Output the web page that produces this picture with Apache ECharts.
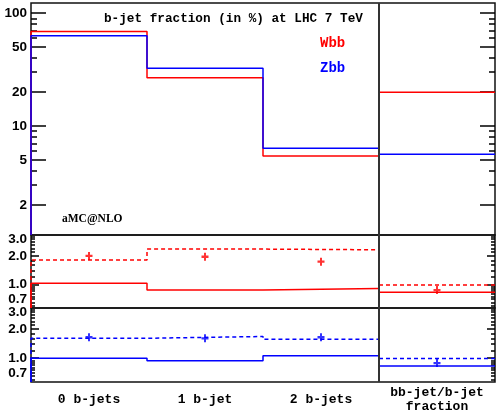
<!DOCTYPE html>
<html><head><meta charset="utf-8">
<script src="https://cdn.jsdelivr.net/npm/echarts@6/dist/echarts.min.js"></script>
<style>html,body{margin:0;padding:0;background:#fff}#c{width:498px;height:416px}</style>
</head><body><div id="c"></div>
<script>
// ---- data ----
const categories = ['0 b-jets', '1 b-jet', '2 b-jets', 'bb-jet/b-jet\nfraction'];
const wbbFraction = [68.7, 26.8, 5.42, 19.9];
const zbbFraction = [62.9, 32.5, 6.34, 5.61];
const wbbRatioSolid = [1.03, 0.875, 0.91, 0.83];
const wbbRatioDashed = [1.81, 2.36, 2.32, 0.99];
const wbbRatioPoints = [2.0, 1.96, 1.74, 0.875];
const zbbRatioSolid = [1.0, 0.94, 1.06, 0.83];
const zbbRatioDashed = [1.61, 1.68, 1.57, 0.99];
const zbbRatioPoints = [1.65, 1.61, 1.65, 0.89];
// ---- tick labels ----
const mainLabelTicks = [2, 5, 10, 20, 50, 100];
const mainMinorTicks = [3, 4, 6, 7, 8, 9, 30, 40, 60, 70, 80, 90];
const ratioLabelTicks = [0.7, 1.0, 2.0, 3.0];
const ratioMajorTicks = [1.0, 2.0];
const ratioMinorTicks = [0.6, 0.65, 0.7, 0.75, 0.8, 0.85, 0.9, 0.95, 1.2, 1.4, 1.6, 1.8, 2.2, 2.4, 2.6, 2.8, 3.0, 3.2];

const L = Math.log10;
const MAIN_RANGE = [1.08, 123];
const RATIO_RANGE = [0.566, 3.32];
const RED = '#ff0000', BLUE = '#0000ff';
const MONO = '"Liberation Mono", "DejaVu Sans Mono", monospace';

function stepData(vals, from, to, floor) {
  const pts = [];
  if (floor != null) pts.push([from, L(floor)]);
  for (let i = from; i < to; i++) { pts.push([i, L(vals[i])]); pts.push([i + 1, L(vals[i])]); }
  return pts;
}
function pointData(vals) { return vals.map((v, i) => [i + 0.5, L(v)]); }

const grids = [
  { left: 31, right: 3, top: 3, height: 232 },
  { left: 31, right: 3, top: 235, height: 73 },
  { left: 31, right: 3, top: 308, height: 74 }
].map(g => Object.assign(g, { show: true, borderColor: '#111', borderWidth: 1.5, backgroundColor: 'transparent', containLabel: false, outerBoundsMode: 'none' }));

const labelStyle = { fontFamily: '"Liberation Sans", Arial, sans-serif', fontWeight: 'bold', fontSize: 13.5, color: '#000', margin: 4 };

function yAxes(gi, range, labelTicks, majorTicks, minorTicks, majLen, minLen, fmt) {
  const base = { gridIndex: gi, type: 'value', min: L(range[0]), max: L(range[1]), splitLine: { show: false }, axisLine: { show: false } };
  const tick = (vals, len) => ({ show: true, inside: true, length: len, customValues: vals.map(L), lineStyle: { color: '#000', width: 1.5 } });
  return [
    Object.assign({}, base, { position: 'left', axisTick: tick(majorTicks, majLen), axisLabel: Object.assign({ customValues: labelTicks.map(L), formatter: fmt }, labelStyle) }),
    Object.assign({}, base, { position: 'left', axisTick: tick(minorTicks, minLen), axisLabel: { show: false } }),
    Object.assign({}, base, { position: 'right', axisTick: tick(majorTicks, majLen), axisLabel: { show: false } }),
    Object.assign({}, base, { position: 'right', axisTick: tick(minorTicks, minLen), axisLabel: { show: false } })
  ];
}

const yAxis = [].concat(
  yAxes(0, MAIN_RANGE, mainLabelTicks, mainLabelTicks, mainMinorTicks, 15, 6, v => String(Math.round(Math.pow(10, v)))),
  yAxes(1, RATIO_RANGE, ratioLabelTicks, ratioMajorTicks, ratioMinorTicks, 8, 4, v => Math.pow(10, v).toFixed(1)),
  yAxes(2, RATIO_RANGE, ratioLabelTicks, ratioMajorTicks, ratioMinorTicks, 8, 4, v => Math.pow(10, v).toFixed(1))
);

const xAxis = [0, 1, 2].map(gi => ({
  gridIndex: gi, type: 'value', min: 0, max: 4,
  axisLine: { show: false }, axisTick: { show: false }, splitLine: { show: false },
  axisLabel: gi === 2 ? {
    customValues: [0.5, 1.5, 2.5, 3.5],
    formatter: v => categories[Math.floor(v)],
    fontFamily: MONO, fontWeight: 'bold', fontSize: 13, color: '#000',
    margin: 18, verticalAlign: 'middle', lineHeight: 14
  } : { show: false }
}));

function line(gi, data, color, dashed) {
  return {
    type: 'line', xAxisIndex: gi, yAxisIndex: gi * 4, data: data, symbol: 'none', silent: true,
    animation: false, clip: true,
    lineStyle: { color: color, width: 1.5, type: dashed ? [4, 3] : 'solid' }
  };
}
function pts(gi, data, color) {
  return {
    type: 'scatter', xAxisIndex: gi, yAxisIndex: gi * 4, data: data, silent: true, animation: false,
    symbol: 'path://M2.5,0H4.5V2.5H7V4.5H4.5V7H2.5V4.5H0V2.5H2.5Z', symbolSize: [7, 8],
    itemStyle: { color: color }
  };
}
function separator(gi) {
  return {
    type: 'line', xAxisIndex: gi, yAxisIndex: gi * 4, data: [], silent: true, animation: false,
    markLine: { silent: true, symbol: 'none', label: { show: false }, animation: false,
      lineStyle: { color: '#333', width: 2, type: 'solid' }, data: [{ xAxis: 3 }] }
  };
}

const series = [
  // main panel
  line(0, stepData(wbbFraction, 0, 3, MAIN_RANGE[0]), RED),
  line(0, stepData(wbbFraction, 3, 4), RED),
  line(0, stepData(zbbFraction, 0, 3, MAIN_RANGE[0]), BLUE),
  line(0, stepData(zbbFraction, 3, 4), BLUE),
  separator(0),
  // Wbb ratio panel
  line(1, stepData(wbbRatioDashed, 0, 3, RATIO_RANGE[0]), RED, true),
  line(1, stepData(wbbRatioDashed, 3, 4), RED, true),
  line(1, stepData(wbbRatioSolid, 0, 3, RATIO_RANGE[0]), RED),
  line(1, stepData(wbbRatioSolid, 3, 4), RED),
  pts(1, pointData(wbbRatioPoints), RED),
  separator(1),
  // Zbb ratio panel
  line(2, stepData(zbbRatioDashed, 0, 3, RATIO_RANGE[0]), BLUE, true),
  line(2, stepData(zbbRatioDashed, 3, 4), BLUE, true),
  line(2, stepData(zbbRatioSolid, 0, 3, RATIO_RANGE[0]), BLUE),
  line(2, stepData(zbbRatioSolid, 3, 4), BLUE),
  pts(2, pointData(zbbRatioPoints), BLUE),
  separator(2)
];

const graphic = [
  { type: 'text', silent: true, style: { x: 104, y: 19, text: 'b-jet fraction (in %) at LHC 7 TeV', font: 'bold 12.7px ' + MONO, fill: '#000', align: 'left', verticalAlign: 'middle' } },
  { type: 'text', silent: true, style: { x: 320, y: 43, text: 'Wbb', font: 'bold 14px ' + MONO, fill: RED, align: 'left', verticalAlign: 'middle' } },
  { type: 'text', silent: true, style: { x: 320, y: 68, text: 'Zbb', font: 'bold 14px ' + MONO, fill: BLUE, align: 'left', verticalAlign: 'middle' } },
  { type: 'text', silent: true, style: { x: 62, y: 219, text: 'aMC@NLO', font: 'bold 11.5px "Liberation Serif", serif', fill: '#000', align: 'left', verticalAlign: 'middle' } }
];

const chart = echarts.init(document.getElementById('c'), null, { renderer: 'canvas' });
chart.setOption({ animation: false, backgroundColor: '#fff', grid: grids, xAxis: xAxis, yAxis: yAxis, series: series, graphic: graphic });
</script>
</body></html>
